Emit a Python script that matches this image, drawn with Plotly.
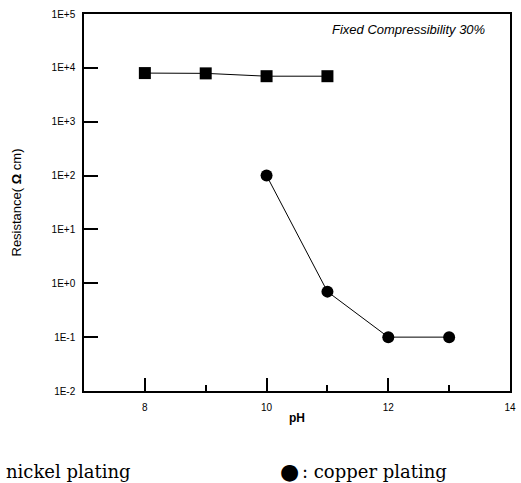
import plotly.graph_objects as go

# Data
ph_nickel = [8, 9, 10, 11]
res_nickel = [8000, 7900, 7000, 7000]
ph_copper = [10, 11, 12, 13]
res_copper = [100, 0.7, 0.1, 0.1]

y_tickvals = [1e-2, 1e-1, 1e0, 1e1, 1e2, 1e3, 1e4, 1e5]
y_ticktext = ["1E-2", "1E-1", "1E+0", "1E+1", "1E+2", "1E+3", "1E+4", "1E+5"]
x_tickvals = [8, 10, 12, 14]
x_ticktext = ["8", "10", "12", "14"]

W, H = 521, 483
L, R, T, B = 84, 11, 14, 92
pw, ph = W - L - R, H - T - B


def px(x):
    return (x - L) / pw


def py(y):
    return (H - B - y) / ph


fig = go.Figure()
fig.add_trace(go.Scatter(
    x=ph_nickel, y=res_nickel, mode="lines+markers",
    line=dict(color="black", width=1),
    marker=dict(symbol="square", size=12, color="black"),
    showlegend=False,
))
fig.add_trace(go.Scatter(
    x=ph_copper, y=res_copper, mode="lines+markers",
    line=dict(color="black", width=1),
    marker=dict(symbol="circle", size=12, color="black"),
    showlegend=False,
))

axis_common = dict(
    showline=True, linecolor="black", linewidth=1.5, mirror=True,
    showgrid=False, zeroline=False, ticks="inside", tickcolor="black",
    tickwidth=1.5, automargin=False,
)

fig.update_xaxes(
    range=[7, 14], tickmode="array", tickvals=x_tickvals, ticktext=x_ticktext,
    ticklen=13, ticklabelstandoff=6,
    tickfont=dict(family="Liberation Sans", size=10, color="black"),
    minor=dict(tickmode="array", tickvals=[9, 11, 13], ticks="inside", ticklen=6,
               tickcolor="black", tickwidth=1.5),
    **axis_common,
)
fig.update_yaxes(
    type="log", range=[-2, 5], tickmode="array", tickvals=y_tickvals,
    ticktext=y_ticktext, ticklen=14, ticklabelstandoff=5,
    tickfont=dict(family="Liberation Sans", size=10, color="black"),
    **axis_common,
)

annotations = [
    dict(text="<i>Fixed Compressibility 30%</i>", x=px(487), y=py(30),
         xanchor="right", yanchor="middle",
         font=dict(family="Liberation Sans", size=13, color="black")),
    dict(text="<b>pH</b>", x=0.5, y=py(418), xanchor="center", yanchor="middle",
         font=dict(family="Liberation Sans", size=12, color="black")),
    dict(text="Resistance( <b>Ω</b> cm)", x=px(16), y=0.5, textangle=-90,
         xanchor="center", yanchor="middle",
         font=dict(family="Liberation Sans", size=13, color="black")),
    dict(text="nickel plating", x=px(133), y=py(471), xanchor="right",
         yanchor="middle",
         font=dict(family="DejaVu Serif", size=18, color="black")),
    dict(text="●", x=px(289), y=py(471), xanchor="center", yanchor="middle",
         font=dict(family="DejaVu Sans", size=22, color="black")),
    dict(text=": copper plating", x=px(300), y=py(471), xanchor="left",
         yanchor="middle",
         font=dict(family="DejaVu Serif", size=18, color="black")),
]
for a in annotations:
    a.update(xref="paper", yref="paper", showarrow=False)

fig.update_layout(
    width=W, height=H,
    margin=dict(l=L, r=R, t=T, b=B),
    paper_bgcolor="white", plot_bgcolor="white",
    annotations=annotations,
)

fig.write_html(
    "out.html",
    config={"displayModeBar": False},
    post_script="document.body.style.margin='0';document.body.style.overflow='hidden';",
)
